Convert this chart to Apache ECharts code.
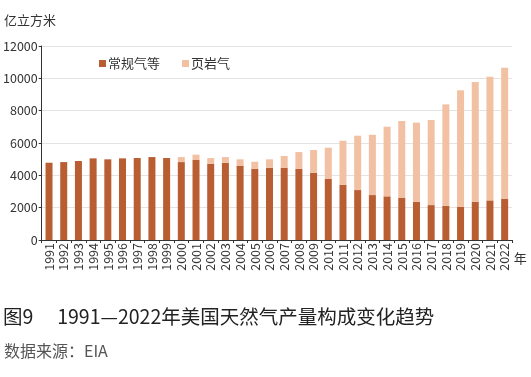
<!DOCTYPE html>
<html><head><meta charset="utf-8">
<script src="https://cdn.jsdelivr.net/npm/echarts@6/dist/echarts.min.js"></script>
<style>html,body{margin:0;padding:0;background:#fff}#c{width:531px;height:377px}</style>
</head><body><div id="c"></div>
<script>
const years = ['1991','1992','1993','1994','1995','1996','1997','1998','1999','2000','2001','2002','2003','2004','2005','2006','2007','2008','2009','2010','2011','2012','2013','2014','2015','2016','2017','2018','2019','2020','2021','2022'];
const conventional = [4780,4820,4885,5050,4990,5050,5070,5130,5070,4820,4950,4720,4780,4600,4410,4470,4470,4410,4165,3790,3420,3090,2780,2700,2620,2370,2160,2120,2060,2370,2450,2560];
const shale = [0,0,0,0,0,0,0,0,0,310,330,350,350,390,430,520,725,1030,1400,1920,2720,3360,3730,4310,4740,4890,5260,6270,7200,7400,7650,8100];
const yTicks = [0,2000,4000,6000,8000,10000,12000];
const seriesNames = ['常规气等','页岩气'];

const FONT = '"Noto Sans CJK SC", "Noto Sans", sans-serif';
const chart = echarts.init(document.getElementById('c'), null, {renderer:'canvas'});
chart.setOption({
  animation:false,
  textStyle:{fontFamily:FONT},
  grid:{left:41.5,right:19,top:46,bottom:137,containLabel:false},
  legend:{
    top:52,left:94,itemWidth:7,itemHeight:7,itemGap:22,icon:'rect',
    textStyle:{fontFamily:FONT,fontSize:13,color:'#333',padding:[0,0,0,-3]},
    data:seriesNames
  },
  xAxis:{
    type:'category',data:years,
    axisLine:{lineStyle:{color:'#333',width:1}},
    axisTick:{show:true,length:3,lineStyle:{color:'#333'}},
    axisLabel:{rotate:90,interval:0,fontSize:12.5,color:'#333',fontFamily:FONT,margin:3},
    name:'年',nameLocation:'end',nameGap:1,
    nameTextStyle:{fontSize:13,color:'#333',fontFamily:FONT,verticalAlign:'top',padding:[12,0,0,0]}
  },
  yAxis:{
    type:'value',min:0,max:12000,interval:2000,
    axisLine:{show:true,lineStyle:{color:'#333',width:1}},
    axisTick:{show:true,length:3,lineStyle:{color:'#333'}},
    axisLabel:{fontSize:12.5,color:'#333',fontFamily:FONT,margin:4,
      formatter:v=>yTicks.includes(v)?String(v):''},
    splitLine:{lineStyle:{color:'#e3e3e3',width:1}}
  },
  series:[
    {name:seriesNames[0],type:'bar',stack:'t',data:conventional,barWidth:7,itemStyle:{color:'#b85e32'}},
    {name:seriesNames[1],type:'bar',stack:'t',data:shale,barWidth:7,itemStyle:{color:'#f2c1a3'}}
  ],
  graphic:[
    {type:'text',left:4,top:14,style:{text:'亿立方米',font:'13px '+FONT,fill:'#333'}},
    {type:'text',left:3,top:307,style:{text:'图9　 1991—2022年美国天然气产量构成变化趋势',font:'19.5px '+FONT,fill:'#222'}},
    {type:'text',left:4,top:343,style:{text:'数据来源：EIA',font:'16px '+FONT,fill:'#555'}}
  ]
});
</script></body></html>
